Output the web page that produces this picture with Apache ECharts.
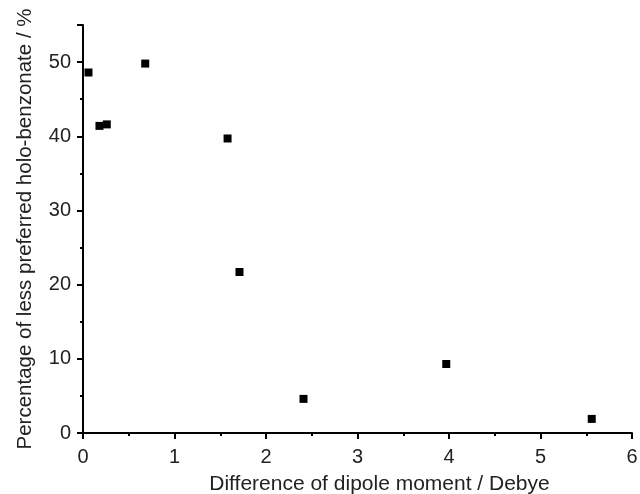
<!DOCTYPE html>
<html>
<head>
<meta charset="utf-8">
<script src="https://cdn.jsdelivr.net/npm/echarts@6/dist/echarts.min.js"></script>
<style>
  html, body { margin: 0; padding: 0; background: #fff; }
  #chart { width: 640px; height: 494px; }
</style>
</head>
<body>
<div id="chart"></div>
<script>
// dipole moment difference (Debye) vs percentage of less preferred holo-benzonate
var dipoleDiff = [0.06, 0.18, 0.26, 0.68, 1.58, 1.71, 2.41, 3.97, 5.56];
var percentLess = [48.6, 41.4, 41.6, 49.8, 39.7, 21.7, 4.6, 9.3, 1.9];

(function () {
  var myChart = echarts.init(document.getElementById("chart"));
  var font = "Liberation Sans, Arial, sans-serif";
  var points = dipoleDiff.map(function (x, i) {
    return [x, percentLess[i]];
  });

  var axisCommon = {
    axisLine: { show: true, onZero: false, lineStyle: { color: "#000", width: 2 } },
    axisTick: { show: true, inside: false, length: 6, lineStyle: { color: "#000", width: 2 } },
    minorTick: { show: true, splitNumber: 2, length: 3, lineStyle: { color: "#000", width: 2 } },
    splitLine: { show: false },
    axisLabel: { color: "#222", fontSize: 20, fontFamily: font },
    nameTextStyle: { color: "#222", fontSize: 21, fontFamily: font },
  };

  var option = {
    animation: false,
    grid: { left: 83, right: 8, top: 25, bottom: 61, containLabel: false, outerBoundsMode: "none" },
    xAxis: Object.assign({}, axisCommon, {
      type: "value",
      min: 0,
      max: 6,
      interval: 1,
      name: "Difference of dipole moment / Debye",
      nameLocation: "middle",
      nameGap: 41,
      nameTextStyle: Object.assign({}, axisCommon.nameTextStyle, { padding: [0, 0, 0, 44] }),
      axisLabel: Object.assign({}, axisCommon.axisLabel, { margin: 14 }),
    }),
    yAxis: Object.assign({}, axisCommon, {
      type: "value",
      min: 0,
      max: 55,
      interval: 10,
      name: "Percentage of less preferred holo-benzonate / %",
      nameLocation: "middle",
      nameGap: 47,
      nameTextStyle: Object.assign({}, axisCommon.nameTextStyle, { fontSize: 20.5 }),
      axisLabel: Object.assign({}, axisCommon.axisLabel, {
        margin: 12,
        showMaxLabel: false,
        formatter: function (v) { return v % 10 === 0 ? v : ""; },
      }),
    }),
    series: [
      {
        type: "scatter",
        data: points,
        symbol: "rect",
        symbolSize: 8,
        itemStyle: { color: "#000", opacity: 1 },
      },
    ],
  };

  myChart.setOption(option);
  window.addEventListener("resize", function () {
    myChart.resize();
  });
})();
</script>
</body>
</html>
